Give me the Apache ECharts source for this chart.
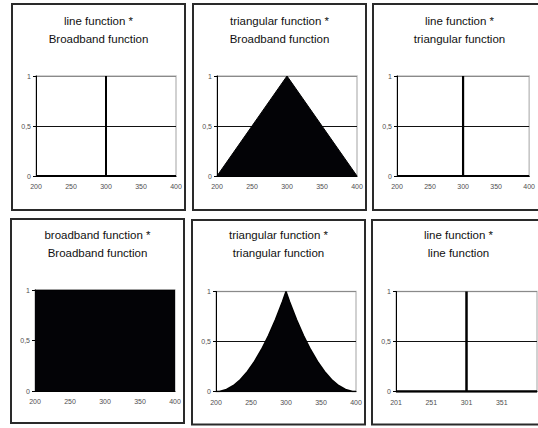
<!DOCTYPE html>
<html>
<head>
<meta charset="utf-8">
<script src="https://cdn.jsdelivr.net/npm/echarts@6/dist/echarts.min.js"></script>
<style>
  html, body { margin: 0; padding: 0; background: #fff; }
  #chart { width: 538px; height: 428px; }
</style>
</head>
<body>
<div id="chart"></div>
<script>
// Products of spectral shapes: line, triangular and broadband functions
const xTicks = [200, 250, 300, 350, 400];
const xTicksLine = [201, 251, 301, 351];
const yTicks = [0, 0.5, 1];

// line function * Broadband function
const lineBroadX = [200, 300, 300, 300, 400];
const lineBroadY = [0, 0, 1, 0, 0];
// triangular function * Broadband function
const triBroadX = [200, 300, 400];
const triBroadY = [0, 1, 0];
// line function * triangular function
const lineTriX = [200, 300, 300, 300, 400];
const lineTriY = [0, 0, 1, 0, 0];
// broadband function * Broadband function
const broadBroadX = [200, 400];
const broadBroadY = [1, 1];
// triangular function * triangular function
const triTriX = [200, 205, 210, 215, 220, 225, 230, 235, 240, 245, 250, 255, 260, 265, 270, 275, 280, 285, 290, 295,
                 300, 305, 310, 315, 320, 325, 330, 335, 340, 345, 350, 355, 360, 365, 370, 375, 380, 385, 390, 395, 400];
const triTriY = [0, 0.00, 0.01, 0.02, 0.04, 0.06, 0.09, 0.12, 0.16, 0.20, 0.25, 0.30, 0.36, 0.42, 0.49, 0.56, 0.64, 0.72, 0.81, 0.90,
                 1, 0.90, 0.81, 0.72, 0.64, 0.56, 0.49, 0.42, 0.36, 0.30, 0.25, 0.20, 0.16, 0.12, 0.09, 0.06, 0.04, 0.02, 0.01, 0.00, 0];
// line function * line function
const lineLineX = [201, 301, 301, 301, 401];
const lineLineY = [0, 0, 1, 0, 0];

const titleLines = [
  ['line function *', 'Broadband function'],
  ['triangular function *', 'Broadband function'],
  ['line function *', 'triangular function'],
  ['broadband function *', 'Broadband function'],
  ['triangular function *', 'triangular function'],
  ['line function *', 'line function']
];

const font = "'Liberation Sans', Arial, sans-serif";

// panel frames and plot rectangles (px)
const frames = [
  [12, 4, 173, 206], [193, 4, 173, 206], [373, 4, 173, 206],
  [11, 219, 173, 204], [192, 220, 173, 204.5], [372, 220, 173, 204.5]
];
const plots = [
  [36, 76, 140, 100], [217, 76, 140, 100], [397, 76, 141, 100],
  [35, 290, 140, 101], [216, 291.5, 140, 100], [396, 291.5, 141, 100]
];
const titleY = [[21, 39], [21, 39], [21, 39], [235, 253], [235, 253], [235, 253]];

const seriesData = [
  [lineBroadX, lineBroadY, 2],
  [triBroadX, triBroadY, 1],
  [lineTriX, lineTriY, 2.2],
  [broadBroadX, broadBroadY, 1],
  [triTriX, triTriY, 1.5],
  [lineLineX, lineLineY, 2.5]
];

const zip = (xs, ys) => xs.map((x, i) => [x, ys[i]]);

const grids = [], xAxes = [], yAxes = [], series = [], graphics = [];

plots.forEach((p, i) => {
  grids.push({
    left: p[0], top: p[1], width: p[2], height: p[3],
    show: true, borderColor: '#c2c2c2', borderWidth: 1.5, backgroundColor: '#fff'
  });
  const isLine = i === 5;
  xAxes.push({
    type: 'value', gridIndex: i,
    min: isLine ? 201 : 200, max: isLine ? 401 : 400,
    interval: isLine ? undefined : 50,
    axisLine: { show: true, onZero: false, lineStyle: { color: '#000', width: 1 } },
    axisTick: { show: false },
    splitLine: { show: false },
    axisLabel: {
      fontSize: 7, fontFamily: font, color: '#505050', margin: 7,
      showMinLabel: true, showMaxLabel: true,
      customValues: isLine ? xTicksLine : xTicks
    }
  });
  yAxes.push({
    type: 'value', gridIndex: i, min: yTicks[0], max: yTicks[2], interval: yTicks[1],
    axisLine: { show: true, lineStyle: { color: '#000', width: 1 } },
    axisTick: { show: true, length: 3, lineStyle: { color: '#000' } },
    axisLabel: {
      fontSize: 7, fontFamily: font, color: '#505050', margin: 5,
      formatter: v => String(v).replace('.', ',')
    },
    splitLine: {
      show: true, showMinLine: true, showMaxLine: true,
      lineStyle: { color: ['#000', '#111', '#8a8a8a'], width: 1 }
    }
  });
  const d = seriesData[i];
  series.push({
    type: 'line', xAxisIndex: i, yAxisIndex: i,
    data: zip(d[0], d[1]),
    symbol: 'none', silent: true,
    lineStyle: { color: '#000', width: d[2] },
    areaStyle: { color: '#030306', opacity: 1 },
    z: 3
  });

  const f = frames[i];
  graphics.push({
    type: 'rect', z: 10,
    shape: { x: f[0], y: f[1], width: f[2], height: f[3] },
    style: { fill: 'none', stroke: '#2a2a2a', lineWidth: 2 }
  });
  const cx = f[0] + f[2] / 2;
  titleLines[i].forEach((t, k) => {
    graphics.push({
      type: 'text', z: 10, x: cx, y: titleY[i][k],
      style: {
        text: t, fill: '#111', font: '11.5px ' + font,
        textAlign: 'center', textVerticalAlign: 'middle',
        align: 'center', verticalAlign: 'middle'
      }
    });
  });
});

const chart = echarts.init(document.getElementById('chart'), null, { renderer: 'svg', width: 538, height: 428 });
chart.setOption({
  animation: false,
  backgroundColor: '#fff',
  grid: grids,
  xAxis: xAxes,
  yAxis: yAxes,
  series: series,
  graphic: graphics
});
</script>
</body>
</html>
